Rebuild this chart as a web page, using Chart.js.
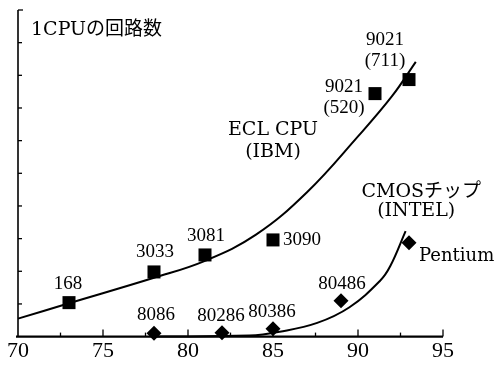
<!DOCTYPE html>
<html><head><meta charset="utf-8">
<script src="https://cdn.jsdelivr.net/npm/chart.js@4/dist/chart.umd.min.js"></script>
<style>html,body{margin:0;padding:0;background:#fff}#wrap{width:494px;height:365px;position:relative}canvas{display:block}</style>
</head><body><div id="wrap"><canvas id="c" width="494" height="365" style="width:494px;height:365px"></canvas></div>
<script>
// ---- data ----
const eclYears = [73, 78, 81, 85, 91, 93];
const eclValues = [1.04, 1.98, 2.5, 2.96, 7.44, 7.87];
const eclNames = ["168", "3033", "3081", "3090", "9021\n(520)", "9021\n(711)"];
const cmosYears = [78, 82, 85, 89, 93];
const cmosValues = [0.1, 0.12, 0.24, 1.1, 2.87];
const cmosNames = ["8086", "80286", "80386", "80486", "Pentium"];
const eclCurveYears = [70, 73, 78, 81, 84, 87, 90, 92, 93.4];
const eclCurveValues = [0.55, 1.02, 1.8, 2.32, 3.12, 4.42, 6.13, 7.36, 8.41];
const cmosCurveYears = [78, 83.6, 85.4, 87.6, 89.5, 91.3, 91.9, 92.8];
const cmosCurveValues = [0, 0.03, 0.15, 0.42, 0.9, 1.71, 2.16, 3.23];
const xTickLabels = ["70", "75", "80", "85", "90", "95"];
const yAxisTitle = "1CPUの回路数";
const eclTitle = ["ECL CPU", "(IBM)"];
const cmosTitle = ["CMOSチップ", "(INTEL)"];

// ---- label placement (pixel offsets from the anchor point) ----
const eclLabelPos = [
  {dx: -1, dy: -19, align: 'center'},
  {dx: 1, dy: -20, align: 'center'},
  {dx: 1, dy: -19, align: 'center'},
  {dx: 10, dy: 0, align: 'left'},
  {dx: -31, dy: -7, align: 'center'},
  {dx: -24, dy: -40, align: 'center'}
];
const cmosLabelPos = [
  {dx: 2, dy: -18, align: 'center'},
  {dx: -1, dy: -17, align: 'center'},
  {dx: -1, dy: -17, align: 'center'},
  {dx: 1, dy: -17, align: 'center'},
  {dx: 10, dy: 13, align: 'left'}
];
const eclTitleAnchor = {x: 85, y: 6.0};
const cmosTitleAnchor = {x: 93.6, y: 4.13};

const numFont = '19px "Liberation Serif", serif';
const textFont = '19px "DejaVu Serif", "Noto Sans CJK JP", serif';

const pts = (xs, ys) => xs.map((x, i) => ({x: x, y: ys[i]}));

const axesPlugin = {
  id: 'axesDraw',
  beforeDatasetsDraw(chart) {
    const {ctx, chartArea: a, scales: {x, y}} = chart;
    ctx.save();
    ctx.strokeStyle = '#000';
    ctx.lineCap = 'butt';
    ctx.lineWidth = 1.6;
    ctx.beginPath();
    ctx.moveTo(a.left, y.getPixelForValue(10));
    ctx.lineTo(a.left, a.bottom);
    ctx.stroke();
    ctx.lineWidth = 1.3;
    for (let v = 1; v <= 10; v++) {
      const py = y.getPixelForValue(v);
      ctx.beginPath();
      ctx.moveTo(a.left, py);
      ctx.lineTo(a.left + (v === 10 ? 5 : 4), py);
      ctx.stroke();
    }
    ctx.lineWidth = 2.2;
    ctx.beginPath();
    ctx.moveTo(a.left - 2, a.bottom);
    ctx.lineTo(x.getPixelForValue(95), a.bottom);
    ctx.stroke();
    ctx.lineWidth = 1.3;
    for (let t = 72.5; t <= 95; t += 2.5) {
      const px = x.getPixelForValue(t);
      const major = Math.abs(t % 5) < 0.01;
      ctx.beginPath();
      ctx.moveTo(px, a.bottom);
      ctx.lineTo(px, a.bottom - (major ? 7 : 4));
      ctx.stroke();
    }
    ctx.restore();
  },
  afterDatasetsDraw(chart) {
    const {ctx, chartArea: a, scales: {x, y}} = chart;
    ctx.save();
    ctx.fillStyle = '#000';
    ctx.textBaseline = 'middle';
    const drawLines = (lines, px, py, align, font, gap) => {
      ctx.font = font;
      ctx.textAlign = align;
      lines.forEach((l, i) => ctx.fillText(l, px, py + i * gap));
    };
    eclYears.forEach((yr, i) => {
      const p = eclLabelPos[i];
      drawLines(eclNames[i].split('\n'), x.getPixelForValue(yr) + p.dx, y.getPixelForValue(eclValues[i]) + p.dy, p.align, numFont, 21);
    });
    cmosYears.forEach((yr, i) => {
      const p = cmosLabelPos[i];
      const f = cmosNames[i] === 'Pentium' ? '18px "DejaVu Serif", serif' : numFont;
      drawLines(cmosNames[i].split('\n'), x.getPixelForValue(yr) + p.dx, y.getPixelForValue(cmosValues[i]) + p.dy, p.align, f, 21);
    });
    const ex = x.getPixelForValue(eclTitleAnchor.x), ey = y.getPixelForValue(eclTitleAnchor.y);
    drawLines([eclTitle[0]], ex, ey - 11, 'center', textFont, 0);
    drawLines([eclTitle[1]], ex, ey + 11, 'center', textFont, 0);
    const cx = x.getPixelForValue(cmosTitleAnchor.x), cy = y.getPixelForValue(cmosTitleAnchor.y);
    drawLines([cmosTitle[0]], cx + 2, cy - 9.5, 'center', textFont, 0);
    drawLines([cmosTitle[1]], cx - 3, cy + 9.5, 'center', textFont, 0);
    drawLines([yAxisTitle], a.left + 13, y.getPixelForValue(10) + 20, 'left', textFont, 0);
    ctx.restore();
  }
};

new Chart(document.getElementById('c'), {
  type: 'scatter',
  data: {
    datasets: [
      {data: pts(eclCurveYears, eclCurveValues), showLine: true, borderColor: '#000', borderWidth: 2,
       pointRadius: 0, tension: 0.4, clip: false},
      {data: pts(cmosCurveYears, cmosCurveValues), showLine: true, borderColor: '#000', borderWidth: 2,
       pointRadius: 0, tension: 0.4, clip: false},
      {data: pts(eclYears, eclValues), pointStyle: 'rect', pointRadius: 9.2, backgroundColor: '#000',
       borderWidth: 0, clip: false},
      {data: pts(cmosYears, cmosValues), pointStyle: 'rectRot', pointRadius: 7.5, backgroundColor: '#000',
       borderWidth: 0, clip: false}
    ]
  },
  options: {
    responsive: false,
    animation: false,
    devicePixelRatio: 1,
    layout: {padding: {left: 18, right: 51, top: 10, bottom: 0}},
    plugins: {legend: {display: false}, tooltip: {enabled: false}},
    scales: {
      x: {
        type: 'linear', min: 70, max: 95,
        grid: {display: false, drawTicks: false},
        border: {display: false},
        ticks: {
          stepSize: 5, padding: 1, color: '#000',
          font: {family: '"Liberation Serif", serif', size: 22},
          callback: (v) => xTickLabels[xTickLabels.indexOf(String(v))] || String(v)
        }
      },
      y: {type: 'linear', min: 0, max: 10, display: false}
    }
  },
  plugins: [axesPlugin]
});
</script>
</body></html>
